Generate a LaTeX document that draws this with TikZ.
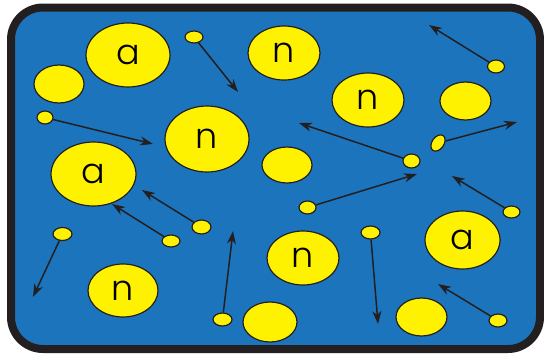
\documentclass[tikz,border=0pt]{standalone}
\usepackage{fontspec}
\IfFontExistsTF{Poppins Light}{\setmainfont{Poppins Light}}{%
  \IfFontExistsTF{Poppins-Light}{\setmainfont{Poppins-Light}}{\setmainfont{Poppins}}}
\usetikzlibrary{shapes.geometric,arrows.meta}
\definecolor{bg}{HTML}{1C75BC}
\definecolor{yel}{HTML}{FFF200}
\definecolor{ink}{HTML}{231F20}
\begin{document}
\begin{tikzpicture}[x=1pt,y=-1pt,
  blob/.style={ellipse,draw=ink,fill=yel,line width=1.2pt,inner sep=0pt,
    font=\fontsize{35}{35}\selectfont},
  mv/.style={draw=ink,line width=1.5pt,-{Stealth[length=13pt,width=9pt,inset=4pt]}},
  sz/.style 2 args={minimum width=#1,minimum height=#2}]
\useasboundingbox (0,0) rectangle (544,357);
\draw[line width=8pt,draw=ink,fill=bg,rounded corners=32pt] (11,7.5) rectangle (540,349);
% large particles
\node[blob,sz={84}{64}] (a1) at (128,55) {a};
\node[blob,sz={85}{64}] (a2) at (93.5,174) {a};
\node[blob,sz={75}{58}] (a3) at (462.5,240) {a};
\node[blob,sz={84}{66}] (n1) at (207,139) {n};
\node[blob,sz={72}{54}] (n2) at (284,53) {n};
\node[blob,sz={72}{54}] (n3) at (368,100) {n};
\node[blob,sz={70}{53}] (n4) at (123,290.5) {n};
\node[blob,sz={72}{54}] (n5) at (303,258) {n};
% plain medium particles
\node[blob,sz={50}{38}] (p1) at (59,84) {};
\node[blob,sz={51}{38}] (p2) at (465.5,101) {};
\node[blob,sz={50}{36}] (p3) at (287,165) {};
\node[blob,sz={54}{40}] (p4) at (270,322) {};
\node[blob,sz={51}{38}] (p5) at (421.5,317) {};
% small moving particles
\node[blob,sz={18}{12}] (d1) at (194,37) {};
\node[blob,sz={16}{13}] (d2) at (45,117.5) {};
\node[blob,sz={17}{13}] (d3) at (496,66.5) {};
\node[blob,sz={18}{12},rotate=55] (d4) at (438,143) {};
\node[blob,sz={17}{14}] (d5) at (411.5,161) {};
\node[blob,sz={18}{12}] (d6) at (171,241) {};
\node[blob,sz={19}{14}] (d7) at (201.5,227) {};
\node[blob,sz={19}{13}] (d8) at (62.5,234) {};
\node[blob,sz={19}{13}] (d9) at (222.5,319.5) {};
\node[blob,sz={17}{13}] (d10) at (307.5,207.5) {};
\node[blob,sz={17}{12}] (d11) at (511.5,212) {};
\node[blob,sz={19}{13}] (d12) at (370.5,232.5) {};
\node[blob,sz={18}{13}] (d13) at (498,320.5) {};
% arrow tips
\coordinate (t1) at (238,92);
\coordinate (t2) at (153,144);
\coordinate (t3) at (429,25);
\coordinate (t4) at (517,122);
\coordinate (t5) at (299,123);
\coordinate (t6) at (112,204);
\coordinate (t7) at (142,190);
\coordinate (t8) at (33,297);
\coordinate (t9) at (233,231);
\coordinate (t10) at (417,174);
\coordinate (t11) at (452,176);
\coordinate (t12) at (378,324);
\coordinate (t13) at (438,284);
\foreach \i in {1,...,13} \draw[mv] (d\i) -- (t\i);
\end{tikzpicture}
\end{document}
